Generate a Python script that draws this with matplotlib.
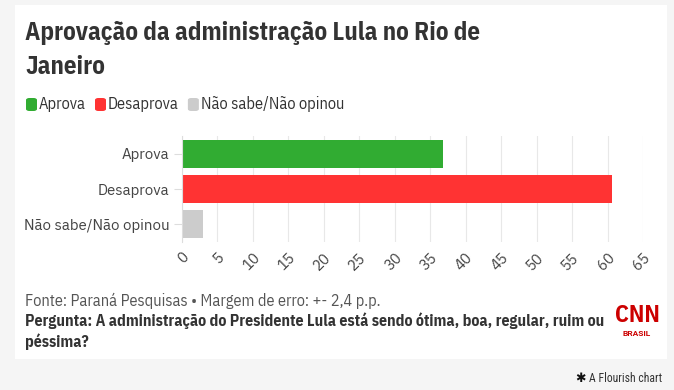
import matplotlib.pyplot as plt
from matplotlib.patches import FancyBboxPatch, Rectangle

categories = ["Aprova", "Desaprova", "Não sabe/Não opinou"]
values = [36.8, 60.6, 2.9]
colors = ["#31ac32", "#ff3333", "#cccccc"]
ticks = list(range(0, 70, 5))

plain = ['IBM Plex Sans', 'Roboto', 'DejaVu Sans']
narrow = ['IBM Plex Sans Condensed', 'Roboto Condensed', 'DejaVu Sans']
plt.rcParams['font.family'] = plain

fig = plt.figure(figsize=(6.74, 3.90), dpi=100)
fig.patch.set_facecolor("#f5f5f5")
W, H = 674, 390

# white card
fig.patches.append(Rectangle((15 / W, 1 - 359 / H), (667 - 15) / W, (359 - 5) / H,
                             transform=fig.transFigure, facecolor="white",
                             edgecolor="none", zorder=-5))

# title
fig.text(25 / W, 1 - 21 / H, "Aprovação da administração Lula no Rio de\nJaneiro",
         fontsize=17.9, fontweight="bold", color="#333333", va="top", ha="left",
         linespacing=1.53, family=narrow)

# legend
lx = 26
for cat, col in zip(categories, colors):
    fig.patches.append(FancyBboxPatch((lx / W, 1 - 111 / H), 11 / W, 13 / H,
                                      boxstyle="round,pad=0,rounding_size=0.005",
                                      transform=fig.transFigure, facecolor=col,
                                      edgecolor="none"))
    t = fig.text((lx + 13) / W, 1 - 104 / H, cat, fontsize=11.8, color="#333333",
                 va="center", ha="left", family=narrow)
    fig.canvas.draw()
    bb = t.get_window_extent()
    lx = bb.x1 + 9

# chart axes
ax = fig.add_axes([182 / W, 1 - 242 / H, (643 - 182) / W, (242 - 136) / H])
ax.set_zorder(2)
y = range(len(categories))
ax.barh(y, values, color=colors, height=0.8, zorder=2)
ax.set_ylim(len(categories) - 0.5, -0.5)
ax.set_xlim(0, 65)
ax.set_xticks(ticks)
ax.set_xticklabels([str(t) for t in ticks], rotation=45, ha="right",
                   rotation_mode="anchor", fontsize=10.8, color="#444444")
ax.set_yticks(list(y))
ax.set_yticklabels(categories, fontsize=10.8, color="#444444")
ax.tick_params(axis="y", length=6, color="#dddddd", pad=3)
ax.tick_params(axis="x", length=0, pad=6)
ax.grid(axis="x", color="#e8e8e8", linewidth=0.8, zorder=0)
for s in ["top", "right", "bottom"]:
    ax.spines[s].set_visible(False)
ax.spines["left"].set_color("#dddddd")
ax.set_facecolor("none")

# footer
fig.text(25 / W, 1 - 301 / H, "Fonte: Paraná Pesquisas • Margem de erro: +- 2,4 p.p.",
         fontsize=11.7, color="#555555", va="center", ha="left", family=narrow)
fig.text(25 / W, 1 - 312 / H,
         "Pergunta: A administração do Presidente Lula está sendo ótima, boa, regular, ruim ou\npéssima?",
         fontsize=11.4, fontweight="bold", color="#333333", va="top", ha="left",
         linespacing=1.35, family=narrow)

# CNN logo
fig.text(637 / W, 1 - 316 / H, "CNN", fontsize=17, fontweight="bold", color="#cc0000",
         va="center", ha="center", family=narrow)
fig.text(637 / W, 1 - 333 / H, "BRASIL", fontsize=6, fontweight="bold",
         color="#cc0000", va="center", ha="center", family=["Roboto"])

# Flourish credit
fc = fig.text(662 / W, 1 - 379 / H, "A Flourish chart", fontsize=8.5, color="#333333",
              va="center", ha="right", family=["Roboto Condensed", "Roboto"])
fig.canvas.draw()
x0 = fc.get_window_extent().x0
fig.text((x0 - 3) / W, 1 - 379 / H, "✱", fontsize=9, color="#111111",
         va="center", ha="right", family=["DejaVu Sans"])

fig.savefig("out.png", dpi=100, facecolor=fig.get_facecolor())
